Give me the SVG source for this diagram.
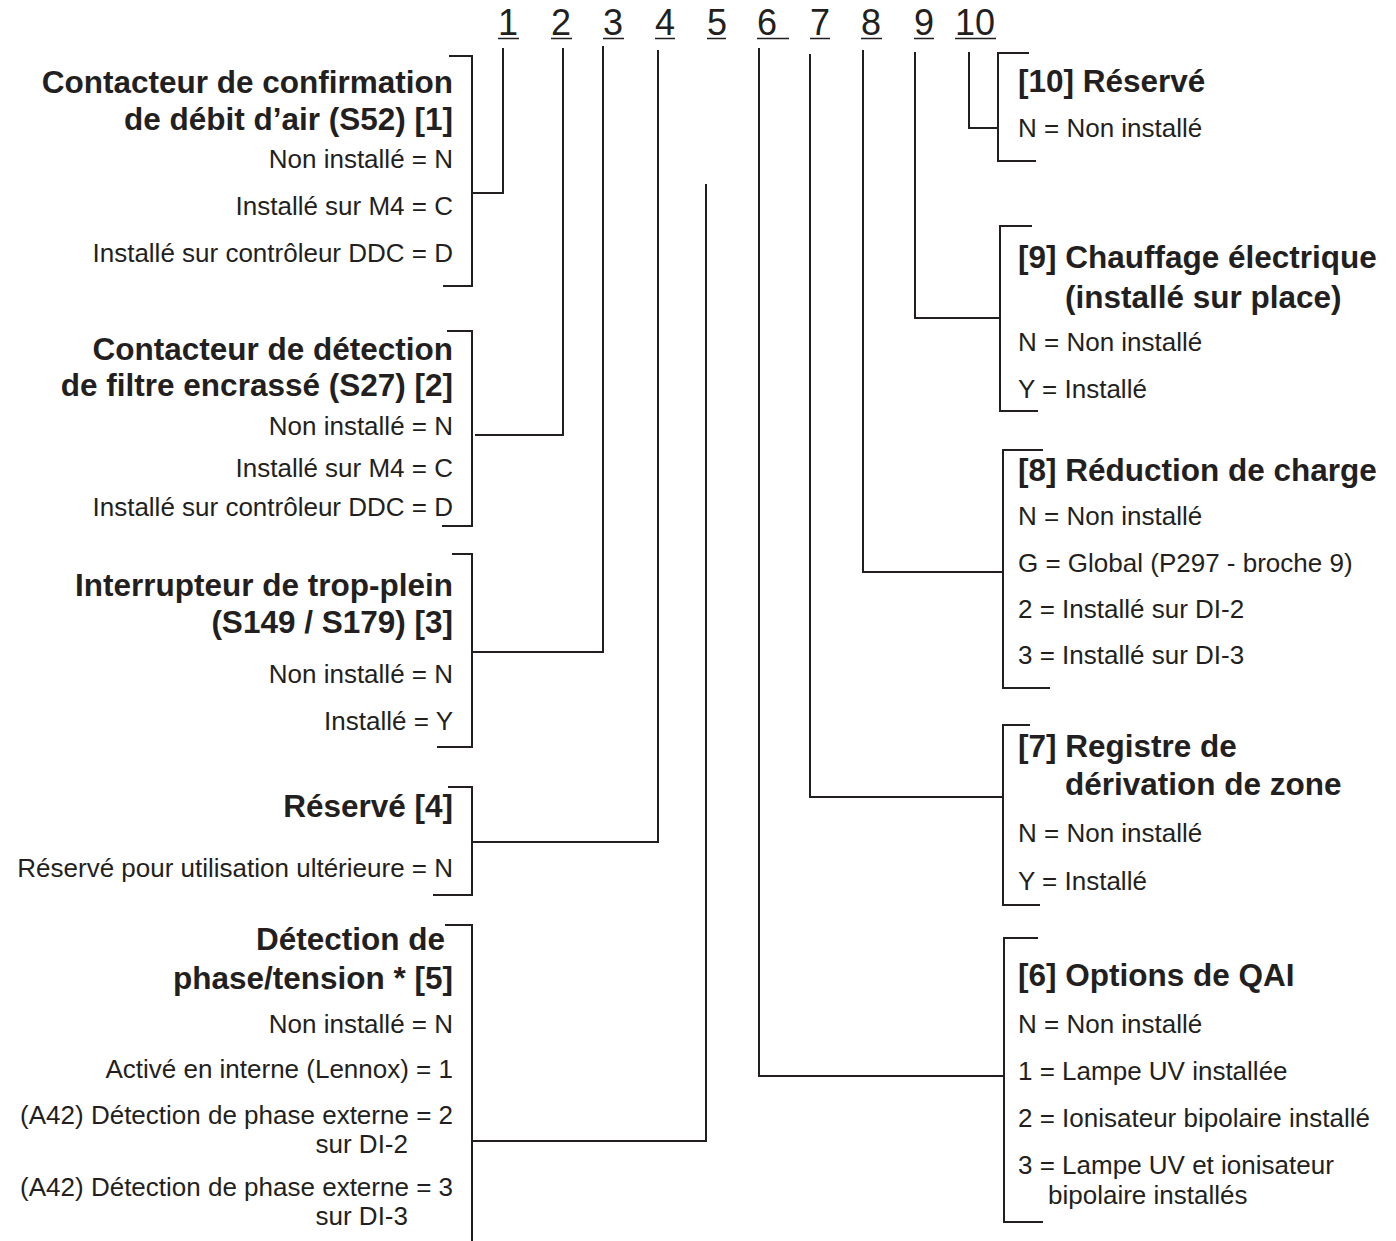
<svg xmlns="http://www.w3.org/2000/svg" width="1396" height="1241" viewBox="0 0 1396 1241">
<style>
text{font-family:"Liberation Sans",Arial,sans-serif;fill:#231f20}
.b{font-weight:bold;font-size:31.5px}
.n{font-size:26px}
.num{font-size:36px}
.e{text-anchor:end}
.ln{stroke:#231f20;stroke-width:2;fill:none}
.ul{stroke:#231f20;stroke-width:1.6}
</style>
<rect width="1396" height="1241" fill="#fff"/>
<g id="numbers">
<text class="num" x="498" y="35">1</text>
<text class="num" x="551" y="35">2</text>
<text class="num" x="603" y="35">3</text>
<text class="num" x="655" y="35">4</text>
<text class="num" x="707" y="35">5</text>
<text class="num" x="757" y="35">6</text>
<text class="num" x="810" y="35">7</text>
<text class="num" x="861" y="35">8</text>
<text class="num" x="914" y="35">9</text>
<text class="num" x="955" y="35">10</text>
<path class="ul" d="M498 38.5H519M551 38.5H572M603 38.5H624M655 38.5H675M707 38.5H726M757 38.5H789M810 38.5H830M861 38.5H882M914 38.5H934M955 38.5H996"/>
</g>
<g id="connectors" class="ln">
<path d="M503 48V193H472"/>
<path d="M563 48V435H475"/>
<path d="M603 46V652H472"/>
<path d="M658 50V842H472"/>
<path d="M706 184V1141H472"/>
<path d="M759 48V1076H1004"/>
<path d="M810 54V797H1003"/>
<path d="M863 50V572H1003"/>
<path d="M915 52V318H1000"/>
<path d="M969 52V128H998"/>
</g>
<g id="node1">
<path class="ln" d="M449 56H472V286H443"/>
<text class="b e" x="453" y="93">Contacteur de confirmation</text>
<text class="b e" x="453" y="130">de débit d’air (S52) [1]</text>
<text class="n e" x="453" y="168">Non installé = N</text>
<text class="n e" x="453" y="215">Installé sur M4 = C</text>
<text class="n e" x="453" y="262">Installé sur contrôleur DDC = D</text>
</g>
<g id="node2">
<path class="ln" d="M447 331H472V526H442"/>
<text class="b e" x="453" y="360">Contacteur de détection</text>
<text class="b e" x="453" y="396">de filtre encrassé (S27) [2]</text>
<text class="n e" x="453" y="435">Non installé = N</text>
<text class="n e" x="453" y="477">Installé sur M4 = C</text>
<text class="n e" x="453" y="516">Installé sur contrôleur DDC = D</text>
</g>
<g id="node3">
<path class="ln" d="M452 554H472V747H437"/>
<text class="b e" x="453" y="596">Interrupteur de trop-plein</text>
<text class="b e" x="453" y="633">(S149 / S179) [3]</text>
<text class="n e" x="453" y="683">Non installé = N</text>
<text class="n e" x="453" y="730">Installé = Y</text>
</g>
<g id="node4">
<path class="ln" d="M448 787H472V895H433"/>
<text class="b e" x="453" y="817">Réservé [4]</text>
<text class="n e" x="453" y="877">Réservé pour utilisation ultérieure = N</text>
</g>
<g id="node5">
<path class="ln" d="M445 925H472V1241"/>
<text class="b e" x="445" y="950">Détection de</text>
<text class="b e" x="453" y="989">phase/tension * [5]</text>
<text class="n e" x="453" y="1033">Non installé = N</text>
<text class="n e" x="453" y="1078">Activé en interne (Lennox) = 1</text>
<text class="n e" x="453" y="1124">(A42) Détection de phase externe = 2</text>
<text class="n e" x="408" y="1153">sur DI-2</text>
<text class="n e" x="453" y="1196">(A42) Détection de phase externe = 3</text>
<text class="n e" x="408" y="1225">sur DI-3</text>
</g>
<g id="node10">
<path class="ln" d="M1029 53H998V161H1036"/>
<text class="b" x="1018" y="92">[10] Réservé</text>
<text class="n" x="1018" y="137">N = Non installé</text>
</g>
<g id="node9">
<path class="ln" d="M1032 226H1000V411H1038"/>
<text class="b" x="1018" y="268">[9] Chauffage électrique</text>
<text class="b" x="1065" y="308">(installé sur place)</text>
<text class="n" x="1018" y="351">N = Non installé</text>
<text class="n" x="1018" y="398">Y = Installé</text>
</g>
<g id="node8">
<path class="ln" d="M1043 450H1003V688H1050"/>
<text class="b" x="1018" y="481">[8] Réduction de charge</text>
<text class="n" x="1018" y="525">N = Non installé</text>
<text class="n" x="1018" y="572">G = Global (P297 - broche 9)</text>
<text class="n" x="1018" y="618">2 = Installé sur DI-2</text>
<text class="n" x="1018" y="664">3 = Installé sur DI-3</text>
</g>
<g id="node7">
<path class="ln" d="M1030 725H1003V905H1040"/>
<text class="b" x="1018" y="757">[7] Registre de</text>
<text class="b" x="1065" y="795">dérivation de zone</text>
<text class="n" x="1018" y="842">N = Non installé</text>
<text class="n" x="1018" y="890">Y = Installé</text>
</g>
<g id="node6">
<path class="ln" d="M1038 938H1004V1222H1043"/>
<text class="b" x="1018" y="986">[6] Options de QAI</text>
<text class="n" x="1018" y="1033">N = Non installé</text>
<text class="n" x="1018" y="1080">1 = Lampe UV installée</text>
<text class="n" x="1018" y="1127">2 = Ionisateur bipolaire installé</text>
<text class="n" x="1018" y="1174">3 = Lampe UV et ionisateur</text>
<text class="n" x="1048" y="1204">bipolaire installés</text>
</g>
</svg>
